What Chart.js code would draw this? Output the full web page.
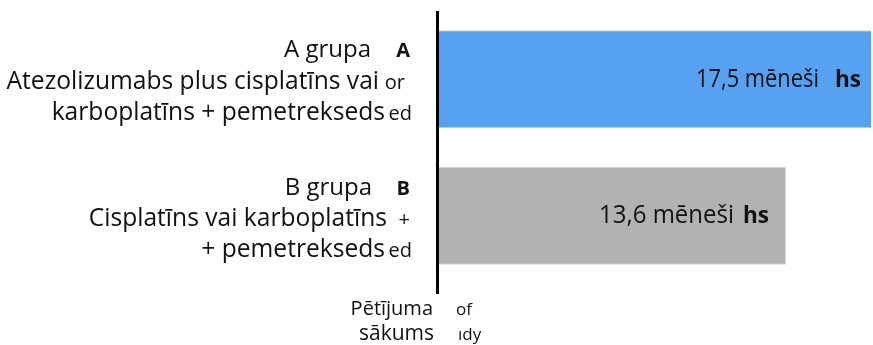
<!DOCTYPE html>
<html>
<head>
<meta charset="utf-8">
<script src="https://cdn.jsdelivr.net/npm/chart.js@4/dist/chart.umd.min.js"></script>
<style>
  html, body { margin: 0; padding: 0; background: #ffffff; }
  #wrap { width: 873px; height: 345px; }
</style>
</head>
<body>
<div id="wrap"><canvas id="chart" width="873" height="345"></canvas></div>
<script>
// Median overall survival per treatment arm
const groups = ['A grupa', 'B grupa'];
const groupTags = ['A', 'B'];
const regimens = [
  ['Atezolizumabs plus cisplatīns vai', 'karboplatīns + pemetrekseds'],
  ['Cisplatīns vai karboplatīns', '+ pemetrekseds']
];
const regimenTails = [['or', 'ed'], ['+', 'ed']];
const medianMonths = [17.5, 13.6];
const valueLabels = ['17,5 mēneši', '13,6 mēneši'];
const valueTails = ['hs', 'hs'];
const startLabel = ['Pētījuma', 'sākums'];
const startTails = ['of', 'ıdy'];

const barColors = ['#56a1f1', '#b2b2b2'];
const FONT = '"Open Sans", "Noto Sans", sans-serif';
const TEXT = '#111111';

// Per-line right edges of the arm labels and offsets from the bar centre
const labelLayout = {
  headDy: [-22, -21], line1Dy: [10, 10], line2Dy: [41, 41],
  headRight: [371, 372], line1Right: [379, 387], line2Right: [385, 385],
  tailRight: 410,
  valueWidth: [123, 135], valueTailGap: [16, 9]
};

const annotate = {
  id: 'annotate',
  afterDraw(chart) {
    const { ctx, chartArea } = chart;
    const yScale = chart.scales.y;
    ctx.save();

    // start-of-study axis line
    ctx.fillStyle = '#000000';
    ctx.fillRect(chartArea.left - 3, chartArea.top, 3, chartArea.bottom - chartArea.top + 10);

    ctx.fillStyle = TEXT;
    groups.forEach((g, i) => {
      const yc = yScale.getPixelForValue(i);
      ctx.textBaseline = 'alphabetic';
      ctx.textAlign = 'right';

      ctx.font = '400 24px ' + FONT;
      ctx.fillText(g, labelLayout.headRight[i], yc + labelLayout.headDy[i]);
      ctx.font = '400 24.6px ' + FONT;
      ctx.fillText(regimens[i][0], labelLayout.line1Right[i], yc + labelLayout.line1Dy[i]);
      ctx.fillText(regimens[i][1], labelLayout.line2Right[i], yc + labelLayout.line2Dy[i]);

      ctx.font = '700 20px ' + FONT;
      ctx.fillText(groupTags[i], labelLayout.tailRight, yc + labelLayout.headDy[i]);
      ctx.font = '400 20px ' + FONT;
      ctx.fillText(regimenTails[i][0], i === 0 ? labelLayout.tailRight - 5 : labelLayout.tailRight, yc + labelLayout.line1Dy[i]);
      ctx.fillText(regimenTails[i][1], labelLayout.tailRight + 2, yc + labelLayout.line2Dy[i]);

      // value label inside the bar
      const bar = chart.getDatasetMeta(0).data[i];
      const barEnd = Math.min(bar.x, chartArea.right);
      const labelEnd = barEnd - 52;
      ctx.font = '400 26px ' + FONT;
      ctx.fillText(valueLabels[i], labelEnd, yc + 7.5, labelLayout.valueWidth[i]);
      ctx.font = '700 23px ' + FONT;
      ctx.textAlign = 'left';
      ctx.fillText(valueTails[i], labelEnd + labelLayout.valueTailGap[i], yc + 7.5, 26);
    });

    // start-of-study caption under the axis
    const ax = chartArea.left;
    ctx.textAlign = 'right';
    ctx.font = '400 20px ' + FONT;
    ctx.fillText(startLabel[0], ax - 6, chartArea.bottom + 31);
    ctx.font = '400 21px ' + FONT;
    ctx.fillText(startLabel[1], ax - 5, chartArea.bottom + 56);
    ctx.textAlign = 'left';
    ctx.font = '400 17px ' + FONT;
    ctx.fillText(startTails[0], ax + 17, chartArea.bottom + 31);
    ctx.fillText(startTails[1], ax + 19, chartArea.bottom + 56);
    ctx.restore();
  }
};

new Chart(document.getElementById('chart'), {
  type: 'bar',
  data: {
    labels: groups,
    datasets: [{
      data: medianMonths,
      backgroundColor: barColors,
      borderColor: '#d4d4d4',
      borderWidth: 1,
      borderSkipped: 'start',
      categoryPercentage: 1,
      barPercentage: 0.718
    }]
  },
  options: {
    indexAxis: 'y',
    responsive: false,
    devicePixelRatio: 1,
    animation: false,
    layout: { padding: { left: 439, right: 2, top: 11, bottom: 61 } },
    plugins: { legend: { display: false }, tooltip: { enabled: false } },
    scales: {
      x: { display: false, min: 0, max: 16.93 },
      y: { display: false }
    }
  },
  plugins: [annotate]
});
</script>
</body>
</html>
